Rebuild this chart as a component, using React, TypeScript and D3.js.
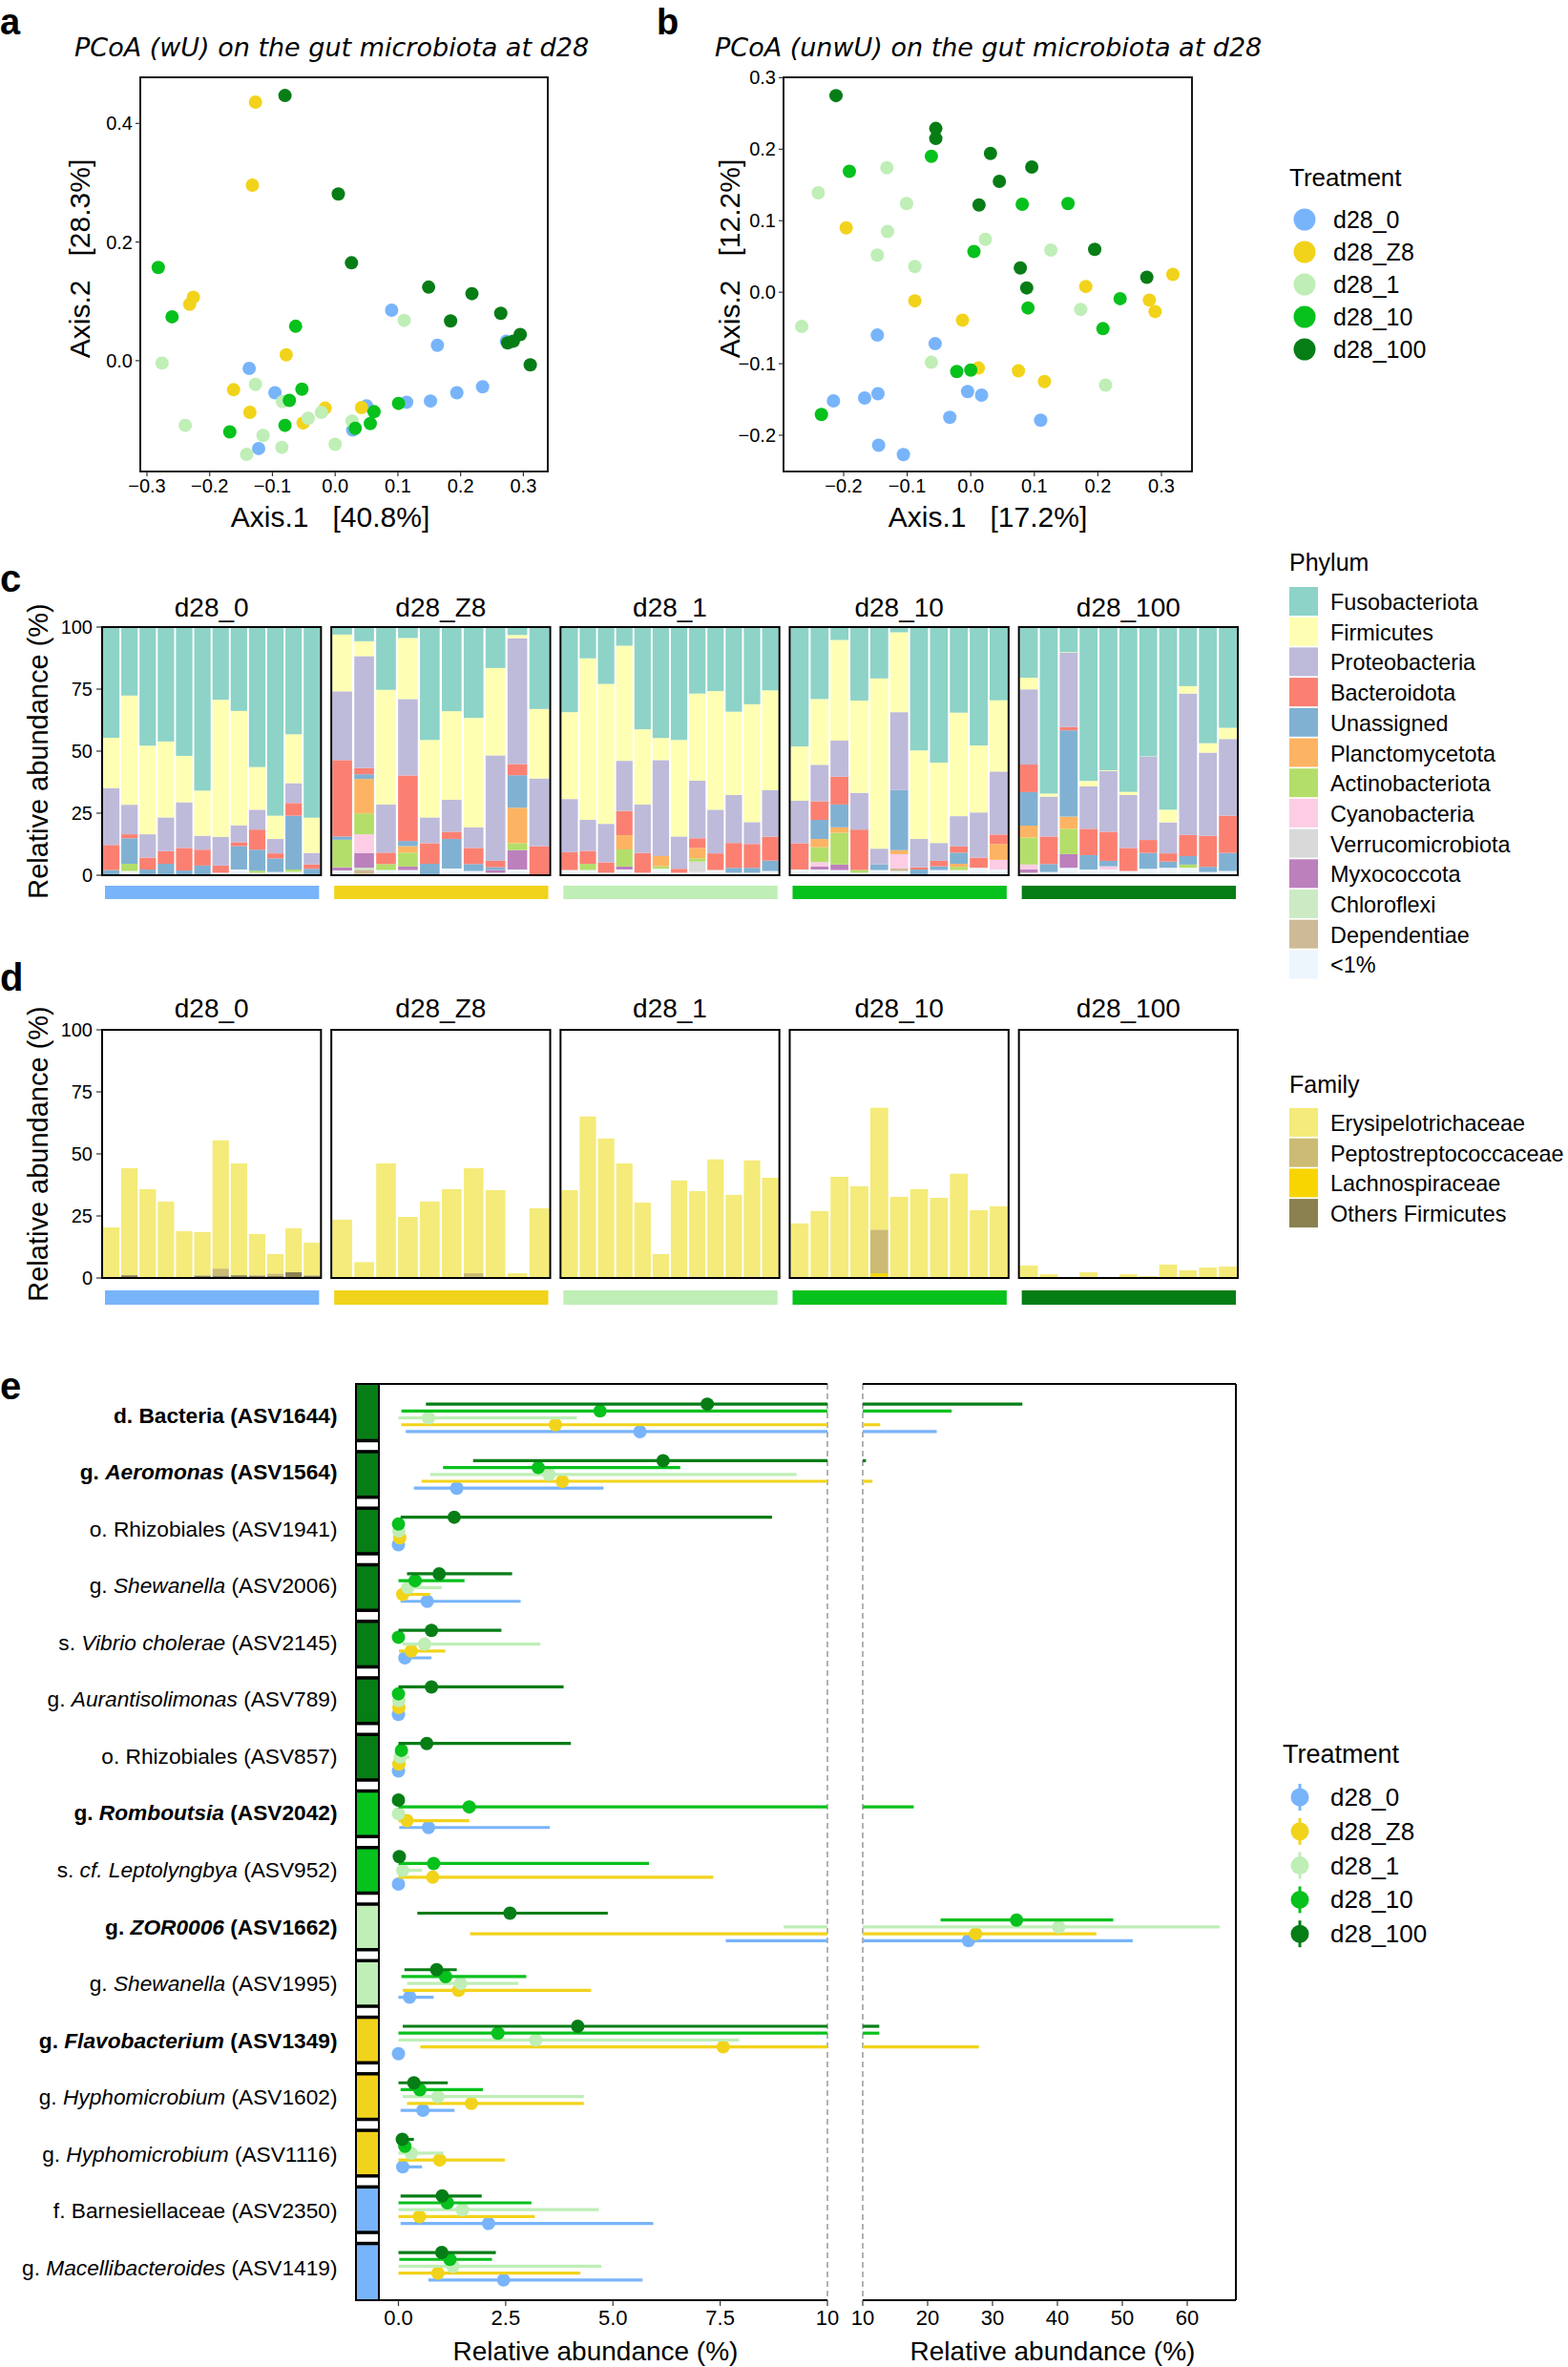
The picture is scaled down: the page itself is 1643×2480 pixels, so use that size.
import React from "react";
import * as d3 from "d3";

const FONT = "'Liberation Sans', Arial, Helvetica, sans-serif";
const TITLE_FONT = "'DejaVu Sans', sans-serif";

const treatments = ["d28_0", "d28_Z8", "d28_1", "d28_10", "d28_100"];
const treatmentColors = ["#78B4FA", "#F2D31B", "#BFEEB6", "#07C11C", "#077D16"];

// a: PCoA weighted UniFrac [Axis.1, Axis.2]
const wuD0 = [[-0.137, -0.013], [-0.096, -0.054], [-0.122, -0.148], [0.09, 0.085], [0.163, 0.026], [0.114, -0.07], [0.152, -0.068], [0.194, -0.054], [0.235, -0.044], [0.05, -0.076], [0.028, -0.117], [0.273, 0.033]];
const wuZ8 = [[-0.127, 0.436], [-0.132, 0.296], [-0.226, 0.107], [-0.232, 0.095], [-0.078, 0.01], [-0.162, -0.049], [-0.136, -0.087], [-0.051, -0.105], [-0.016, -0.08], [0.042, -0.079]];
const wuD1 = [[-0.276, -0.004], [-0.127, -0.04], [-0.084, -0.069], [-0.239, -0.109], [-0.115, -0.126], [-0.141, -0.158], [-0.085, -0.146], [-0.043, -0.097], [-0.022, -0.087], [0.0, -0.141], [0.027, -0.102], [0.11, 0.068]];
const wuD10 = [[-0.282, 0.157], [-0.26, 0.074], [-0.063, 0.058], [-0.053, -0.048], [-0.073, -0.067], [-0.08, -0.109], [-0.168, -0.12], [0.062, -0.086], [0.056, -0.106], [0.032, -0.114], [0.101, -0.072]];
const wuD100 = [[-0.08, 0.447], [0.005, 0.281], [0.026, 0.165], [0.149, 0.124], [0.218, 0.113], [0.184, 0.067], [0.264, 0.08], [0.275, 0.03], [0.284, 0.033], [0.295, 0.044], [0.311, -0.007]];

// b: PCoA unweighted UniFrac
const uwD0 = [[-0.147, -0.06], [-0.056, -0.072], [-0.216, -0.152], [-0.167, -0.148], [-0.146, -0.142], [-0.005, -0.139], [0.017, -0.144], [-0.033, -0.175], [0.11, -0.179], [-0.145, -0.214], [-0.106, -0.227]];
const uwZ8 = [[-0.196, 0.09], [-0.088, -0.012], [-0.013, -0.039], [0.181, 0.008], [0.318, 0.025], [0.281, -0.011], [0.29, -0.027], [0.012, -0.106], [0.075, -0.11], [0.116, -0.125]];
const uwD1 = [[-0.132, 0.174], [-0.24, 0.139], [-0.101, 0.124], [-0.131, 0.085], [-0.147, 0.052], [-0.088, 0.036], [0.023, 0.074], [0.126, 0.059], [0.173, -0.024], [-0.266, -0.048], [-0.062, -0.098], [0.212, -0.13]];
const uwD10 = [[-0.062, 0.19], [-0.191, 0.169], [0.081, 0.123], [0.153, 0.124], [0.005, 0.057], [0.09, -0.022], [0.235, -0.009], [0.208, -0.051], [-0.022, -0.111], [0.0, -0.109], [-0.235, -0.171]];
const uwD100 = [[-0.212, 0.275], [-0.055, 0.229], [-0.055, 0.215], [0.031, 0.194], [0.096, 0.175], [0.045, 0.155], [0.013, 0.122], [0.195, 0.06], [0.078, 0.034], [0.088, 0.006], [0.277, 0.021]];

// c: phylum composition (%)
const phyla = ["Fusobacteriota", "Firmicutes", "Proteobacteria", "Bacteroidota", "Unassigned", "Planctomycetota", "Actinobacteriota", "Cyanobacteria", "Verrucomicrobiota", "Myxococcota", "Chloroflexi", "Dependentiae", "<1%"];
const phylumKeys = ["fu", "fi", "pr", "ba", "un", "pl", "ac", "cy", "ve", "my", "ch", "de", "lt"];
const phylumColors = ["#8DD3C7", "#FFFFB3", "#BEBADA", "#FB8072", "#80B1D3", "#FDB462", "#B3DE69", "#FCCDE5", "#D9D9D9", "#BC80BD", "#CCEBC5", "#CDBA96", "#EEF6FD"];

const phylumD0 = [
  { fu: 44.6, fi: 20.3, pr: 22.9, ba: 10.1, un: 1.7, lt: 0.4 },
  { fu: 27.6, fi: 44.0, pr: 11.9, ba: 1.6, un: 10.3, ac: 2.9, lt: 1.7 },
  { fu: 47.8, fi: 35.7, pr: 9.4, ba: 4.8, un: 1.9, lt: 0.4 },
  { fu: 46.1, fi: 30.6, pr: 13.6, ba: 5.1, un: 4.2, lt: 0.4 },
  { fu: 51.9, fi: 18.7, pr: 18.4, ba: 9.1, un: 1.5, lt: 0.4 },
  { fu: 65.9, fi: 18.2, pr: 5.6, ba: 6.4, un: 3.5, lt: 0.4 },
  { fu: 29.3, fi: 55.2, pr: 11.6, ba: 2.9, lt: 1.0 },
  { fu: 33.8, fi: 46.1, pr: 6.8, ba: 1.6, un: 9.4, lt: 2.3 },
  { fu: 56.4, fi: 17.2, pr: 8.0, ba: 8.1, un: 8.5, ac: 0.8, lt: 1.0 },
  { fu: 76.0, fi: 9.4, pr: 5.8, ba: 2.0, un: 5.5, lt: 1.3 },
  { fu: 43.2, fi: 19.7, pr: 8.0, ba: 5.1, un: 21.7, ac: 0.9, lt: 1.4 },
  { fu: 76.8, fi: 14.2, pr: 4.6, ba: 1.8, un: 2.2, lt: 0.4 },
];
const phylumZ8 = [
  { fu: 3.0, fi: 22.9, pr: 27.7, ba: 30.8, un: 1.3, ac: 11.1, my: 1.3, lt: 1.9 },
  { fu: 5.7, fi: 6.0, pr: 45.1, ba: 2.5, un: 1.9, pl: 13.9, ac: 8.4, cy: 7.5, my: 6.0, ch: 0.8, de: 1.7, lt: 0.5 },
  { fu: 25.3, fi: 46.2, pr: 19.4, ba: 4.6, ac: 2.4, lt: 2.1 },
  { fu: 4.4, fi: 24.6, pr: 30.8, ba: 26.4, un: 2.1, pl: 2.6, ac: 5.6, my: 1.4, lt: 2.1 },
  { fu: 45.5, fi: 31.2, pr: 10.4, ba: 8.3, un: 4.6 },
  { fu: 33.9, fi: 35.7, pr: 12.9, ba: 2.9, un: 11.9, lt: 2.7 },
  { fu: 36.6, fi: 44.1, pr: 8.3, ba: 6.5, un: 2.8, lt: 1.7 },
  { fu: 16.5, fi: 35.2, pr: 42.5, ba: 2.6, un: 1.1, my: 1.1, lt: 1.0 },
  { fu: 3.2, fi: 1.3, pr: 50.7, ba: 4.5, un: 13.1, pl: 14.3, ac: 2.8, my: 7.8, lt: 2.3 },
  { fu: 33.0, fi: 28.0, pr: 27.3, ba: 11.7 },
];
const phylumD1 = [
  { fu: 34.3, fi: 35.0, pr: 21.4, ba: 7.2, lt: 2.1 },
  { fu: 12.6, fi: 65.1, pr: 12.5, ba: 5.2, ac: 2.5, lt: 2.1 },
  { fu: 22.9, fi: 56.4, pr: 15.5, ba: 4.2, lt: 1.0 },
  { fu: 7.5, fi: 46.4, pr: 20.2, ba: 9.8, pl: 5.7, ac: 6.9, my: 1.2, lt: 2.3 },
  { fu: 41.2, fi: 30.3, pr: 19.5, ba: 8.0, lt: 1.0 },
  { fu: 44.7, fi: 8.9, pr: 38.7, pl: 4.1, ac: 1.0, lt: 2.6 },
  { fu: 45.5, fi: 38.9, pr: 13.0, ba: 1.6, lt: 1.0 },
  { fu: 26.8, fi: 35.1, pr: 23.2, ba: 3.9, pl: 4.2, ac: 1.3, ve: 4.2, lt: 1.3 },
  { fu: 25.8, fi: 47.8, pr: 17.6, ba: 6.7, lt: 2.1 },
  { fu: 34.1, fi: 33.6, pr: 19.3, ba: 10.0, un: 2.0, lt: 1.0 },
  { fu: 31.1, fi: 47.5, pr: 8.8, ba: 9.6, un: 2.0, lt: 1.0 },
  { fu: 25.5, fi: 40.2, pr: 18.8, ba: 9.6, un: 4.2, lt: 1.7 },
];
const phylumD10 = [
  { fu: 48.1, fi: 21.9, pr: 17.1, ba: 10.6, lt: 2.3 },
  { fu: 29.0, fi: 26.5, pr: 14.7, ba: 7.5, un: 7.7, pl: 3.3, ac: 6.0, cy: 1.7, my: 1.3, lt: 2.3 },
  { fu: 5.2, fi: 40.5, pr: 14.6, ba: 11.2, un: 9.2, pl: 2.2, ac: 12.8, my: 2.2, lt: 2.1 },
  { fu: 29.6, fi: 37.2, pr: 14.8, ba: 16.3, ac: 1.1, lt: 1.0 },
  { fu: 20.7, fi: 68.6, pr: 6.4, un: 2.2, lt: 2.1 },
  { fu: 2.1, fi: 32.2, pr: 31.4, un: 24.2, pl: 1.6, cy: 5.8, de: 1.0, lt: 1.7 },
  { fu: 49.7, fi: 35.7, pr: 11.4, ba: 0.9, un: 2.3 },
  { fu: 54.6, fi: 32.4, pr: 7.2, ba: 2.2, un: 1.5, lt: 2.1 },
  { fu: 34.5, fi: 41.7, pr: 12.2, ba: 2.5, un: 4.5, pl: 1.2, ac: 1.3, lt: 2.1 },
  { fu: 47.7, fi: 27.0, pr: 18.2, ba: 4.1, lt: 3.0 },
  { fu: 29.5, fi: 28.7, pr: 25.4, ba: 3.8, pl: 6.4, cy: 3.9, lt: 2.3 },
];
const phylumD100 = [
  { fu: 20.4, fi: 4.7, pr: 30.3, ba: 11.1, un: 13.5, pl: 4.8, ac: 10.9, cy: 2.0, my: 1.3, lt: 1.0 },
  { fu: 67.1, fi: 1.2, pr: 16.1, ba: 11.1, un: 3.2, lt: 1.3 },
  { fu: 10.1, fi: 0.2, pr: 30.0, ba: 1.3, un: 34.8, pl: 4.9, ac: 10.2, my: 5.5, lt: 3.0 },
  { fu: 62.0, fi: 2.2, pr: 17.1, ba: 10.6, un: 5.8, lt: 2.3 },
  { fu: 57.7, fi: 0.3, pr: 24.5, ba: 11.7, un: 2.2, cy: 1.3, lt: 2.3 },
  { fu: 66.4, fi: 1.3, pr: 21.3, ba: 9.3, lt: 1.7 },
  { fu: 52.2, fi: 0.1, pr: 33.6, ba: 5.2, un: 6.4, lt: 2.6 },
  { fu: 73.6, fi: 5.1, pr: 12.5, ba: 3.3, un: 2.5, lt: 3.0 },
  { fu: 23.8, fi: 3.0, pr: 57.0, ba: 8.5, un: 3.4, ac: 1.3, lt: 3.0 },
  { fu: 46.8, fi: 3.8, pr: 33.5, ba: 12.5, un: 2.1, lt: 1.3 },
  { fu: 40.6, fi: 4.5, pr: 30.9, ba: 15.0, un: 7.3, lt: 1.7 },
];

// d: Firmicutes families (%)
const families = ["Erysipelotrichaceae", "Peptostreptococcaceae", "Lachnospiraceae", "Others Firmicutes"];
const familyKeys = ["ery", "pep", "lac", "oth"];
const familyColors = ["#F4EB7A", "#CBBB74", "#F8D500", "#8B8050"];

const familyD0 = [
  { ery: 20.4 }, { ery: 43.2, oth: 1.1 }, { ery: 35.8 }, { ery: 30.8 }, { ery: 18.9 }, { ery: 17.5, oth: 1.0 },
  { ery: 51.7, pep: 2.8, oth: 1.0 }, { ery: 45.1, oth: 1.1 }, { ery: 16.7, oth: 1.0 }, { ery: 7.8, pep: 1.0, oth: 0.8 },
  { ery: 17.7, oth: 2.3 }, { ery: 13.2, oth: 1.0 },
];
const familyZ8 = [
  { ery: 23.5 }, { ery: 6.4 }, { ery: 46.2 }, { ery: 24.6 }, { ery: 30.8 }, { ery: 35.8 },
  { ery: 42.4, pep: 1.9 }, { ery: 35.4 }, { ery: 1.9 }, { ery: 28.1 },
];
const familyD1 = [
  { ery: 35.4 }, { ery: 65.1 }, { ery: 56.2 }, { ery: 46.2 }, { ery: 30.4 }, { ery: 9.6 },
  { ery: 39.3 }, { ery: 34.5, oth: 0.5 }, { ery: 47.8 }, { ery: 33.5 }, { ery: 46.9, oth: 0.5 }, { ery: 40.4 },
];
const familyD10 = [
  { ery: 22.0 }, { ery: 27.0 }, { ery: 40.8 }, { ery: 37.0 }, { ery: 49.1, pep: 17.6, lac: 1.4, oth: 0.5 },
  { ery: 32.3, oth: 0.4 }, { ery: 35.4, oth: 0.4 }, { ery: 32.3 }, { ery: 42.0 }, { ery: 27.3 }, { ery: 28.9 },
];
const familyD100 = [
  { ery: 5.0 }, { ery: 1.5 }, { ery: 0 }, { ery: 2.3 }, { ery: 0 }, { ery: 1.5 },
  { ery: 0.3, oth: 0.5 }, { ery: 5.4 }, { ery: 3.1 }, { ery: 4.2 }, { ery: 4.6 },
];

// e: ASV relative abundance, [mean, lower, upper] per row
const asvLabels = [
  { pre: "d. Bacteria", it: "", asv: "ASV1644", bold: true },
  { pre: "g. ", it: "Aeromonas", asv: "ASV1564", bold: true },
  { pre: "o. Rhizobiales", it: "", asv: "ASV1941", bold: false },
  { pre: "g. ", it: "Shewanella", asv: "ASV2006", bold: false },
  { pre: "s. ", it: "Vibrio cholerae", asv: "ASV2145", bold: false },
  { pre: "g. ", it: "Aurantisolimonas", asv: "ASV789", bold: false },
  { pre: "o. Rhizobiales", it: "", asv: "ASV857", bold: false },
  { pre: "g. ", it: "Romboutsia", asv: "ASV2042", bold: true },
  { pre: "s. ", it: "cf. Leptolyngbya", asv: "ASV952", bold: false },
  { pre: "g. ", it: "ZOR0006", asv: "ASV1662", bold: true },
  { pre: "g. ", it: "Shewanella", asv: "ASV1995", bold: false },
  { pre: "g. ", it: "Flavobacterium", asv: "ASV1349", bold: true },
  { pre: "g. ", it: "Hyphomicrobium", asv: "ASV1602", bold: false },
  { pre: "g. ", it: "Hyphomicrobium", asv: "ASV1116", bold: false },
  { pre: "f. Barnesiellaceae", it: "", asv: "ASV2350", bold: false },
  { pre: "g. ", it: "Macellibacteroides", asv: "ASV1419", bold: false },
];
const asvGroup = [4, 4, 4, 4, 4, 4, 4, 3, 3, 2, 2, 1, 1, 1, 0, 0];

const eD0 = [[5.63, 0.17, 21.4], [1.36, 0.36, 4.78], [0, 0, 0], [0.67, 0.05, 2.85], [0.15, 0.05, 0.77], [0, 0, 0], [0, 0, 0], [0.7, 0.02, 3.53], [0, 0, 0], [26.3, 7.63, 51.6], [0.26, 0, 0.82], [0, 0, 0], [0.57, 0.05, 1.31], [0.1, 0, 0.55], [2.1, 0.05, 5.94], [2.45, 0.7, 5.69]];
const eZ8 = [[3.66, 0.07, 12.7], [3.82, 0.54, 11.5], [0.03, 0, 0.05], [0.1, 0.07, 0.74], [0.3, 0.01, 1.09], [0.01, 0, 0.02], [0.01, 0, 0.02], [0.2, 0, 1.65], [0.8, 0, 7.34], [27.4, 1.67, 46.0], [1.4, 0.1, 4.49], [7.57, 0.51, 27.9], [1.7, 0.2, 4.32], [0.96, 0, 2.48], [0.49, 0, 3.18], [0.92, 0, 4.24]];
const eD1 = [[0.7, 0, 4.16], [3.51, 0.74, 9.28], [0.01, 0, 0.02], [0.22, 0.07, 1.01], [0.61, 0.1, 3.31], [0.01, 0, 0.02], [0.04, 0, 0.26], [0, 0, 0], [0.1, 0, 0.55], [40.2, 8.98, 65.0], [1.45, 0.2, 2.8], [3.2, 0, 7.94], [0.92, 0.1, 4.32], [0.3, 0, 1.05], [1.49, 0, 4.67], [1.27, 0, 4.73]];
const eD10 = [[4.7, 0.07, 23.7], [3.26, 1.04, 6.57], [0, 0, 0], [0.39, 0, 1.54], [0, 0, 0], [0, 0, 0], [0.07, 0, 0.1], [1.65, 0, 17.85], [0.82, 0, 5.84], [33.7, 22.0, 48.6], [1.1, 0.07, 2.98], [2.32, 0, 12.55], [0.5, 0.05, 1.97], [0.15, 0, 0.2], [1.14, 0, 3.1], [1.2, 0.02, 2.18]];
const eD100 = [[7.2, 0.64, 34.6], [6.17, 1.74, 10.5], [1.3, 0.05, 8.71], [0.95, 0.2, 2.65], [0.77, 0, 2.4], [0.77, 0, 3.85], [0.66, 0, 4.02], [0, 0, 0], [0.02, 0, 0.05], [2.6, 0.44, 4.88], [0.89, 0.14, 1.36], [4.18, 0.1, 12.55], [0.36, 0, 1.15], [0.09, 0, 0.36], [1.02, 0.05, 1.94], [1.01, 0, 2.27]];

const fmt1 = d3.format(".1f");
const panelBand = d3.scaleBand<string>().domain(treatments).range([107, 1297]).paddingInner(0.045);

function Pcoa(props: any) {
  const { box, x, y, xTicks, yTicks, groups, title, titleX, xLab, xLabX, yLab, yLabX } = props;
  return (
    <g>
      <text x={titleX} y={59} fontFamily={TITLE_FONT} fontStyle="italic" fontSize={27}>{title}</text>
      {groups.map((pts: number[][], gi: number) =>
        pts.map((p, i) => <circle key={gi + "-" + i} cx={x(p[0])} cy={y(p[1])} r={7} fill={treatmentColors[gi]} />)
      )}
      <rect x={box.l} y={box.t} width={box.r - box.l} height={box.b - box.t} fill="none" stroke="#000" strokeWidth={1.8} />
      {xTicks.map((t: number) => (
        <g key={"x" + t}>
          <line x1={x(t)} x2={x(t)} y1={box.b} y2={box.b + 5} stroke="#333" strokeWidth={1.2} />
          <text x={x(t)} y={516} textAnchor="middle" fontSize={20}>{fmt1(t)}</text>
        </g>
      ))}
      {yTicks.map((t: number) => (
        <g key={"y" + t}>
          <line x1={box.l - 5} x2={box.l} y1={y(t)} y2={y(t)} stroke="#333" strokeWidth={1.2} />
          <text x={box.l - 8} y={y(t) + 7} textAnchor="end" fontSize={20}>{fmt1(t)}</text>
        </g>
      ))}
      <text x={xLabX} y={552} textAnchor="middle" fontSize={30} style={{ whiteSpace: "pre" }}>{xLab}</text>
      <text transform={`translate(${yLabX},271) rotate(-90)`} textAnchor="middle" fontSize={30} style={{ whiteSpace: "pre" }}>{yLab}</text>
    </g>
  );
}

function StackChart(props: any) {
  const { groups, keys, colors, top, bottom, stripY, barTop, barH } = props;
  const y = d3.scaleLinear().domain([0, 100]).range([bottom, top]);
  const stack = d3.stack<any>().keys([...keys].reverse()).value((d: any, k: string) => d[k] ?? 0);
  const colorOf = d3.scaleOrdinal<string, string>().domain(keys).range(colors);
  return (
    <g>
      {[0, 25, 50, 75, 100].map((t) => (
        <g key={t}>
          <line x1={101} x2={107} y1={y(t)} y2={y(t)} stroke="#333" strokeWidth={1.2} />
          <text x={97} y={y(t) + 7} textAnchor="end" fontSize={20}>{t}</text>
        </g>
      ))}
      <text transform={`translate(50,${(top + bottom) / 2}) rotate(-90)`} textAnchor="middle" fontSize={29}>Relative abundance (%)</text>
      {treatments.map((t, ti) => {
        const x0 = panelBand(t)!;
        const bw = panelBand.bandwidth();
        const rows = groups[ti];
        const xb = d3.scaleBand<number>().domain(d3.range(rows.length)).range([x0, x0 + bw]).paddingInner(0.1).paddingOuter(0.05);
        const series = stack(rows);
        return (
          <g key={t}>
            <text x={x0 + bw / 2} y={stripY} textAnchor="middle" fontSize={28}>{t}</text>
            {series.map((s) =>
              s.map((d, i) =>
                d[1] - d[0] > 0 ? (
                  <rect key={s.key + i} x={xb(i)} width={xb.bandwidth()} y={y(d[1])} height={y(d[0]) - y(d[1])} fill={colorOf(s.key)} />
                ) : null
              )
            )}
            <rect x={x0} y={top} width={bw} height={bottom - top} fill="none" stroke="#000" strokeWidth={2} />
            <rect x={x0 + 3} y={barTop} width={bw - 5} height={barH} fill={treatmentColors[ti]} />
          </g>
        );
      })}
    </g>
  );
}

function SquareLegend(props: any) {
  const { title, labels, colors, titleY, keyTop } = props;
  return (
    <g>
      <text x={1351} y={titleY} fontSize={25}>{title}</text>
      {labels.map((l: string, i: number) => (
        <g key={l}>
          <rect x={1351} y={keyTop + i * 31.7} width={30} height={30} fill={colors[i]} />
          <text x={1394} y={keyTop + i * 31.7 + 24} fontSize={23.4}>{l}</text>
        </g>
      ))}
    </g>
  );
}

function Forest() {
  const groups = [eD0, eZ8, eD1, eD10, eD100];
  const top = 1450, bottom = 2410;
  const yRow = d3.scalePoint<number>().domain(d3.range(16)).range([top, bottom]).padding(0.6);
  const step = yRow.step();
  const dodge = d3.scalePoint<string>().domain([...treatments].reverse()).range([-14.4, 14.4]);
  const xl = d3.scaleLinear().domain([0, 10]).range([417.5, 867]);
  const xr = d3.scaleLinear().domain([10, 60]).range([904, 1244]);
  const stripL = 373, stripR = 397, rightEdge = 1295;
  return (
    <g>
      {asvLabels.map((lab, i) => (
        <text key={i} x={353.5} y={yRow(i)! + 5 + i * 0.3} textAnchor="end" fontSize={22.7} fontWeight={lab.bold ? "bold" : "normal"} style={{ whiteSpace: "pre" }}>
          <tspan>{lab.pre}</tspan>
          {lab.it ? <tspan fontStyle="italic">{lab.it}</tspan> : null}
          <tspan>{" (" + lab.asv + ")"}</tspan>
        </text>
      ))}
      {asvLabels.map((_, i) => {
        const c = yRow(i)!;
        const y0 = i === 0 ? top : c - step / 2 + 6.5;
        const y1 = i === 15 ? bottom : c + step / 2 - 6.5;
        return <rect key={"s" + i} x={stripL} y={y0} width={stripR - stripL} height={y1 - y0} fill={treatmentColors[asvGroup[i]]} stroke="#000" strokeWidth={2} />;
      })}
      {d3.range(15).map((i) => {
        const m = yRow(i)! + step / 2;
        return <rect key={"w" + i} x={stripL} y={m - 5} width={stripR - stripL} height={10} fill="#fff" stroke="#000" strokeWidth={2} />;
      })}
      <line x1={867} x2={867} y1={top} y2={bottom} stroke="#999" strokeWidth={1.5} strokeDasharray="6,4" />
      <line x1={904} x2={904} y1={top} y2={bottom} stroke="#999" strokeWidth={1.5} strokeDasharray="6,4" />
      {groups.map((rows, ti) => (
        <g key={"g" + ti}>
          {rows.map((r, ri) => {
            const [m, lo, hi] = r;
            const yy = yRow(ri)! + dodge(treatments[ti])!;
            const col = treatmentColors[ti];
            return (
              <g key={ri}>
                {lo < 10 && hi - lo > 0.001 ? (
                  <line x1={xl(lo)} x2={xl(Math.min(hi, 10))} y1={yy} y2={yy} stroke={col} strokeWidth={3.2} />
                ) : null}
                {hi > 10 ? <line x1={xr(Math.max(lo, 10))} x2={xr(hi)} y1={yy} y2={yy} stroke={col} strokeWidth={3.2} /> : null}
                <circle cx={m <= 10 ? xl(m) : xr(m)} cy={yy} r={7} fill={col} />
              </g>
            );
          })}
        </g>
      ))}
      <line x1={stripL} x2={867} y1={top} y2={top} stroke="#000" strokeWidth={2} />
      <line x1={stripL} x2={867} y1={bottom} y2={bottom} stroke="#000" strokeWidth={2} />
      <line x1={904} x2={rightEdge} y1={top} y2={top} stroke="#000" strokeWidth={2} />
      <line x1={904} x2={rightEdge} y1={bottom} y2={bottom} stroke="#000" strokeWidth={2} />
      <line x1={rightEdge} x2={rightEdge} y1={top} y2={bottom} stroke="#000" strokeWidth={2} />
      {[0, 2.5, 5, 7.5, 10].map((t) => (
        <g key={"lt" + t}>
          <line x1={xl(t)} x2={xl(t)} y1={bottom} y2={bottom + 6} stroke="#333" strokeWidth={1.2} />
          <text x={xl(t)} y={2436} textAnchor="middle" fontSize={22}>{t === 10 ? "10" : fmt1(t)}</text>
        </g>
      ))}
      {[10, 20, 30, 40, 50, 60].map((t) => (
        <g key={"rt" + t}>
          <line x1={xr(t)} x2={xr(t)} y1={bottom} y2={bottom + 6} stroke="#333" strokeWidth={1.2} />
          <text x={xr(t)} y={2436} textAnchor="middle" fontSize={22}>{t}</text>
        </g>
      ))}
      <text x={624} y={2473} textAnchor="middle" fontSize={28}>Relative abundance (%)</text>
      <text x={1103} y={2473} textAnchor="middle" fontSize={28}>Relative abundance (%)</text>
      <text x={1344} y={1847} fontSize={27}>Treatment</text>
      {treatments.map((t, i) => {
        const cy = 1883 + i * 35.8;
        return (
          <g key={t}>
            <line x1={1362} x2={1362} y1={cy - 14} y2={cy + 14} stroke={treatmentColors[i]} strokeWidth={3} />
            <circle cx={1362} cy={cy} r={9.5} fill={treatmentColors[i]} />
            <text x={1394} y={cy + 9} fontSize={26}>{t}</text>
          </g>
        );
      })}
    </g>
  );
}

export default function App() {
  const xa = d3.scaleLinear().domain([-0.3, 0.3]).range([154, 548.4]);
  const ya = d3.scaleLinear().domain([0, 0.4]).range([377.9, 129.3]);
  const xbS = d3.scaleLinear().domain([-0.2, 0.3]).range([884, 1217]);
  const ybS = d3.scaleLinear().domain([-0.2, 0.3]).range([456, 81.4]);
  return (
    <svg width={1643} height={2480} viewBox="0 0 1643 2480" style={{ position: "absolute", left: 0, top: 0 }} fontFamily={FONT}>
      <rect width={1643} height={2480} fill="#fff" />
      <text x={0} y={36} fontSize={38} fontWeight="bold">a</text>
      <text x={688} y={36} fontSize={38} fontWeight="bold">b</text>
      <text x={0} y={620} fontSize={40} fontWeight="bold">c</text>
      <text x={0} y={1038} fontSize={40} fontWeight="bold">d</text>
      <text x={0} y={1466} fontSize={40} fontWeight="bold">e</text>

      <Pcoa box={{ l: 147, r: 574, t: 81, b: 494 }} x={xa} y={ya} xTicks={[-0.3, -0.2, -0.1, 0, 0.1, 0.2, 0.3]} yTicks={[0, 0.2, 0.4]}
        groups={[wuD0, wuZ8, wuD1, wuD10, wuD100]} title="PCoA (wU) on the gut microbiota at d28" titleX={78}
        xLab="Axis.1   [40.8%]" xLabX={346} yLab="Axis.2   [28.3%]" yLabX={94} />
      <Pcoa box={{ l: 821, r: 1249, t: 81, b: 494 }} x={xbS} y={ybS} xTicks={[-0.2, -0.1, 0, 0.1, 0.2, 0.3]} yTicks={[-0.2, -0.1, 0, 0.1, 0.2, 0.3]}
        groups={[uwD0, uwZ8, uwD1, uwD10, uwD100]} title="PCoA (unwU) on the gut microbiota at d28" titleX={749}
        xLab="Axis.1   [17.2%]" xLabX={1035} yLab="Axis.2   [12.2%]" yLabX={775} />

      <text x={1351} y={195} fontSize={26}>Treatment</text>
      {treatments.map((t, i) => (
        <g key={t}>
          <circle cx={1367} cy={230 + i * 34} r={11.5} fill={treatmentColors[i]} />
          <text x={1397} y={230 + i * 34 + 9} fontSize={25}>{t}</text>
        </g>
      ))}

      <StackChart groups={[phylumD0, phylumZ8, phylumD1, phylumD10, phylumD100]} keys={phylumKeys} colors={phylumColors}
        top={657} bottom={917} stripY={646} barTop={928} barH={14} />
      <SquareLegend title="Phylum" labels={phyla} colors={phylumColors} titleY={598} keyTop={615} />

      <StackChart groups={[familyD0, familyZ8, familyD1, familyD10, familyD100]} keys={familyKeys} colors={familyColors}
        top={1079} bottom={1339} stripY={1066} barTop={1352} barH={15} />
      <SquareLegend title="Family" labels={families} colors={familyColors} titleY={1145} keyTop={1161} />

      <Forest />
    </svg>
  );
}
